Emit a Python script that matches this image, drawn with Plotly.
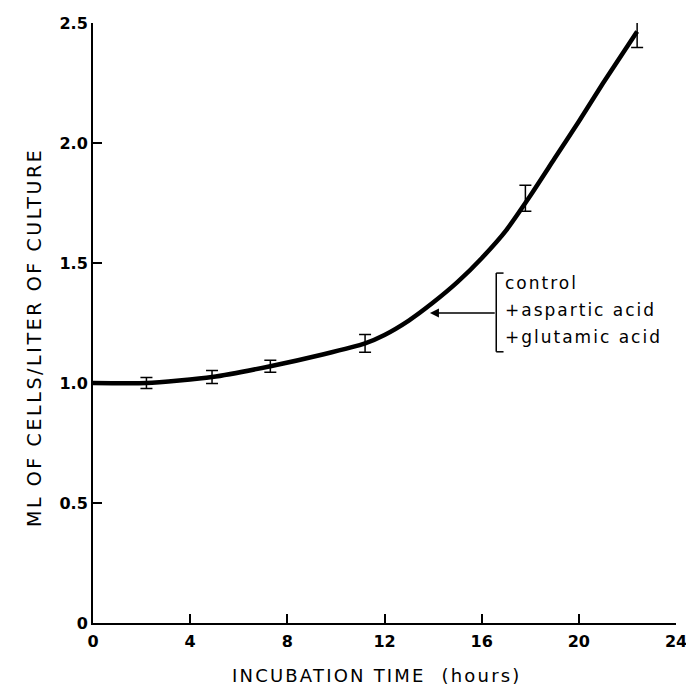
import plotly.graph_objects as go

# Measured points with error bars
pt_x = [2.2, 4.9, 7.3, 11.2, 17.8, 22.4]
pt_y = [1.0, 1.025, 1.07, 1.165, 1.77, 2.46]
pt_err = [0.023, 0.027, 0.025, 0.037, 0.054, 0.062]

# Smooth fitted curve
curve_x = [0, 2.2, 4.9, 7.3, 9.5, 11.2, 12.0, 13.0, 14.0, 15.0, 16.0, 17.0, 18.0, 19.0, 20.0, 21.0, 22.4]
curve_y = [1.0, 1.0, 1.025, 1.07, 1.12, 1.165, 1.20, 1.26, 1.335, 1.42, 1.52, 1.635, 1.78, 1.935, 2.09, 2.25, 2.465]

x_ticks = [0, 4, 8, 12, 16, 20, 24]
y_ticks = [0, 0.5, 1.0, 1.5, 2.0, 2.5]
y_tick_text = ["0", "0.5", "1.0", "1.5", "2.0", "2.5"]

legend_lines = ["control", "+aspartic acid", "+glutamic acid"]
x_title = "INCUBATION TIME  (hours)"
y_title = "ML OF CELLS/LITER OF CULTURE"

FONT = "DejaVu Sans"
W, H = 686, 692
ML, MR, MT, MB = 93, 10, 23, 69


def spaced(t, px):
    return f'<span style="letter-spacing:{px}px">{t}</span>'


fig = go.Figure()
fig.add_trace(go.Scatter(
    x=curve_x, y=curve_y, mode="lines",
    line=dict(color="black", width=4.5, shape="spline", smoothing=0.6),
    hoverinfo="skip", cliponaxis=False))
fig.add_trace(go.Scatter(
    x=pt_x, y=pt_y, mode="markers",
    marker=dict(size=1, color="black"),
    error_y=dict(type="data", array=pt_err, color="black", thickness=1.5, width=6),
    cliponaxis=False))

# bracket and arrow
bx0, bx1 = 16.6, 16.9
by0, by1 = 1.13, 1.458
fig.add_shape(type="line", x0=bx0, x1=bx0, y0=by0, y1=by1, xref="x", yref="y",
              line=dict(color="black", width=1.5))
fig.add_shape(type="line", x0=bx0, x1=bx1, y0=by1, y1=by1, xref="x", yref="y",
              line=dict(color="black", width=1.5))
fig.add_shape(type="line", x0=bx0, x1=bx1, y0=by0, y1=by0, xref="x", yref="y",
              line=dict(color="black", width=1.5))
fig.add_annotation(x=13.87, y=1.292, ax=bx0, ay=1.292, xref="x", yref="y",
                   axref="x", ayref="y", text="", showarrow=True,
                   arrowhead=2, arrowsize=1.2, arrowwidth=1.5, arrowcolor="black")
for t, yy in zip(legend_lines, [1.417, 1.304, 1.192]):
    fig.add_annotation(x=16.87, y=yy, xref="x", yref="y", text=spaced(t, 2),
                       showarrow=False, xanchor="left", yanchor="middle",
                       font=dict(family=FONT, size=17, color="black"))

# axis titles as paper annotations (positioned like the reference)
pw = W - ML - MR
ph = H - MT - MB
fig.add_annotation(x=(377 - ML) / pw, y=-(675 - (H - MB)) / ph, xref="paper", yref="paper",
                   text=spaced(x_title, 2.2), showarrow=False,
                   xanchor="center", yanchor="middle",
                   font=dict(family=FONT, size=18, color="black"))
fig.add_annotation(x=-(ML - 34) / pw, y=((H - MB) - 338) / ph, xref="paper", yref="paper",
                   text=spaced(y_title, 2.6), showarrow=False, textangle=-90,
                   xanchor="center", yanchor="middle",
                   font=dict(family=FONT, size=19, color="black"))

fig.update_layout(
    width=W, height=H,
    margin=dict(l=ML, r=MR, t=MT, b=MB),
    paper_bgcolor="white", plot_bgcolor="white",
    showlegend=False,
    font=dict(family=FONT, color="black"),
)
fig.update_xaxes(
    range=[0, 24], tickvals=x_ticks, ticks="inside", ticklen=9, tickwidth=1.5,
    tickcolor="black", showline=True, linecolor="black", linewidth=2,
    showgrid=False, zeroline=False, ticklabeloverflow="allow", automargin=False,
    ticklabelstandoff=3,
    tickfont=dict(family=FONT, size=16, color="black", weight="bold"),
)
fig.update_yaxes(
    range=[0, 2.5], tickvals=y_ticks, ticktext=y_tick_text, ticks="inside",
    ticklen=9, tickwidth=1.5, tickcolor="black", showline=True,
    linecolor="black", linewidth=2, showgrid=False, zeroline=False,
    ticklabeloverflow="allow", automargin=False,
    tickfont=dict(family=FONT, size=16, color="black", weight="bold"),
)

fig.write_html("out.html")
